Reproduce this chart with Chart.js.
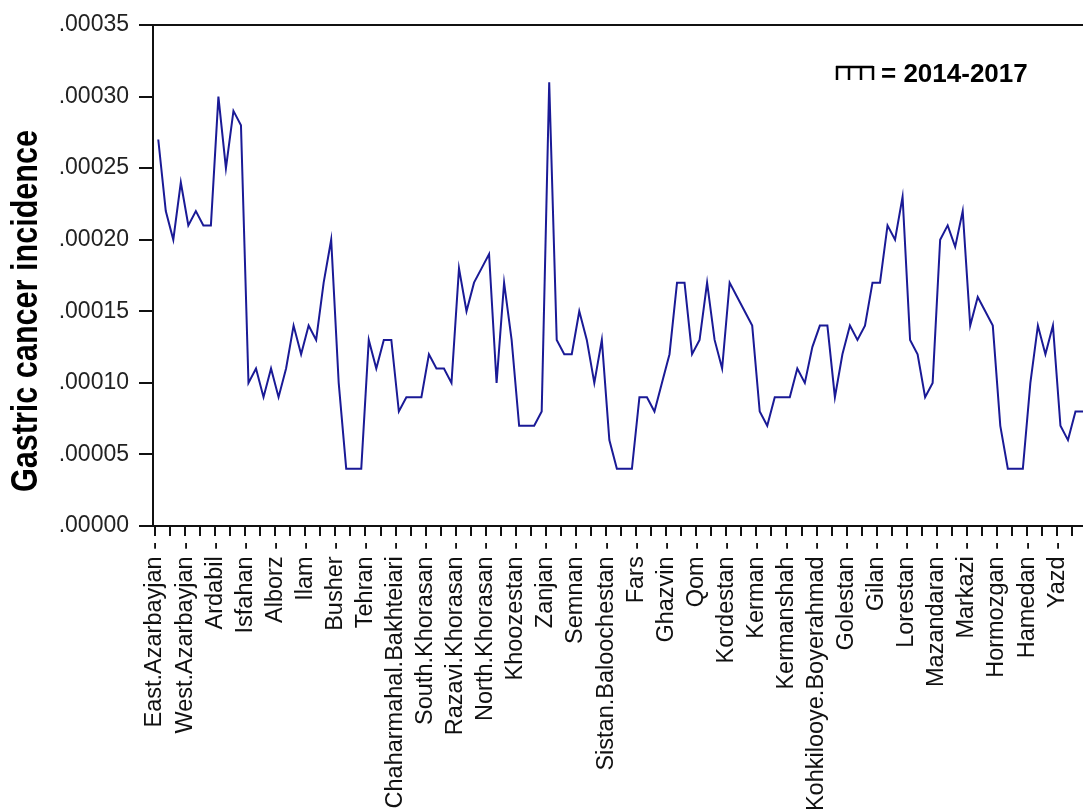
<!DOCTYPE html>
<html>
<head>
<meta charset="utf-8">
<script src="https://cdn.jsdelivr.net/npm/chart.js@4"></script>
<style>
html,body{margin:0;padding:0;background:#fff;overflow:hidden}
#wrap{width:1083px;height:812px;position:relative}
</style>
</head>
<body>
<div id="wrap"><canvas id="c" width="1083" height="812"></canvas></div>
<script>
// ---- data ----
const provinces = ['East.Azarbayjan','West.Azarbayjan','Ardabil','Isfahan','Alborz','Ilam','Busher','Tehran',
  'Chaharmahal.Bakhteiari','South.Khorasan','Razavi.Khorasan','North.Khorasan','Khoozestan','Zanjan','Semnan',
  'Sistan.Baloochestan','Fars','Ghazvin','Qom','Kordestan','Kerman','Kermanshah','Kohkilooye.Boyerahmad',
  'Golestan','Gilan','Lorestan','Mazandaran','Markazi','Hormozgan','Hamedan','Yazd'];
const years = ['2014','2015','2016','2017'];
// incidence, 4 observations per province (2014-2017), consecutive
const incidence = [
  0.00027,0.00022,0.00020,0.00024, 0.00021,0.00022,0.00021,0.00021,
  0.00030,0.00025,0.00029,0.00028, 0.00010,0.00011,0.00009,0.00011,
  0.00009,0.00011,0.00014,0.00012, 0.00014,0.00013,0.00017,0.00020,
  0.00010,0.00004,0.00004,0.00004, 0.00013,0.00011,0.00013,0.00013,
  0.00008,0.00009,0.00009,0.00009, 0.00012,0.00011,0.00011,0.00010,
  0.00018,0.00015,0.00017,0.00018, 0.00019,0.00010,0.00017,0.00013,
  0.00007,0.00007,0.00007,0.00008, 0.00031,0.00013,0.00012,0.00012,
  0.00015,0.00013,0.00010,0.00013, 0.00006,0.00004,0.00004,0.00004,
  0.00009,0.00009,0.00008,0.00010, 0.00012,0.00017,0.00017,0.00012,
  0.00013,0.00017,0.00013,0.00011, 0.00017,0.00016,0.00015,0.00014,
  0.00008,0.00007,0.00009,0.00009, 0.00009,0.00011,0.00010,0.000125,
  0.00014,0.00014,0.00009,0.00012, 0.00014,0.00013,0.00014,0.00017,
  0.00017,0.00021,0.00020,0.00023, 0.00013,0.00012,0.00009,0.00010,
  0.00020,0.00021,0.000195,0.00022, 0.00014,0.00016,0.00015,0.00014,
  0.00007,0.00004,0.00004,0.00004, 0.00010,0.00014,0.00012,0.00014,
  0.00007,0.00006,0.00008,0.00008
];
const yTickValues = [0,0.00005,0.00010,0.00015,0.00020,0.00025,0.00030,0.00035];
const yTitle = 'Gastric cancer incidence';
const legendText = '= 2014-2017';

// ---- chart ----
const perProvince = years.length;
const xTickValues = [];
for (let k = 0; k < 62; k++) xTickValues.push(-0.44 + 2 * k);

const decor = {
  id: 'decor',
  afterDraw(chart) {
    const ctx = chart.ctx, a = chart.chartArea;
    ctx.save();
    // top frame line
    ctx.strokeStyle = '#111';
    ctx.lineWidth = 2;
    ctx.beginPath();
    ctx.moveTo(a.left - 1, a.top);
    ctx.lineTo(a.right, a.top);
    ctx.stroke();
    // y title (condensed along its length)
    ctx.fillStyle = '#000';
    ctx.font = "bold 37px 'Liberation Sans', Arial, sans-serif";
    ctx.textAlign = 'center';
    ctx.textBaseline = 'alphabetic';
    const w = ctx.measureText(yTitle).width;
    ctx.translate(37, 311);
    ctx.rotate(-Math.PI / 2);
    ctx.scale(362 / w, 1);
    ctx.fillText(yTitle, 0, 0);
    ctx.restore();
    // legend symbol + text
    ctx.save();
    ctx.strokeStyle = '#000';
    ctx.lineWidth = 2.5;
    ctx.beginPath();
    ctx.moveTo(836, 67); ctx.lineTo(873, 67);
    for (let j = 0; j < perProvince; j++) {
      const x = 837 + j * 12;
      ctx.moveTo(x, 66); ctx.lineTo(x, 80);
    }
    ctx.stroke();
    ctx.fillStyle = '#000';
    ctx.font = "bold 26px 'Liberation Sans', Arial, sans-serif";
    ctx.textAlign = 'left';
    ctx.textBaseline = 'alphabetic';
    ctx.fillText(legendText, 881, 82);
    ctx.restore();
  }
};

new Chart(document.getElementById('c'), {
  type: 'line',
  data: {
    datasets: [{
      data: incidence.map((v, i) => ({x: i, y: v})),
      borderColor: '#1a1a96',
      borderWidth: 2,
      pointRadius: 0,
      tension: 0,
      fill: false
    }]
  },
  options: {
    responsive: false,
    animation: false,
    devicePixelRatio: 1,
    layout: {padding: {top: 25, right: 0, left: 0, bottom: 0}},
    plugins: {legend: {display: false}, tooltip: {enabled: false}},
    scales: {
      x: {
        type: 'linear',
        min: -0.7,
        max: 123,
        afterBuildTicks(scale) { scale.ticks = xTickValues.map(v => ({value: v})); },
        afterFit(scale) { scale.height = 812 - 526; scale.paddingLeft = 0; scale.paddingRight = 0; },
        ticks: {
          autoSkip: false,
          minRotation: 90,
          maxRotation: 90,
          padding: 6,
          color: '#111',
          font: {family: "'Liberation Sans', Arial, sans-serif", size: 23.5},
          callback(v, idx) { return idx % 2 === 0 ? provinces[idx / 2] + ' -' : ''; }
        },
        grid: {drawOnChartArea: false, drawTicks: true, tickLength: 10, color: '#111', lineWidth: 2},
        border: {display: true, color: '#111', width: 2}
      },
      y: {
        min: 0,
        max: 0.00035,
        afterBuildTicks(scale) { scale.ticks = yTickValues.map(v => ({value: v})); },
        afterFit(scale) { scale.width = 153; scale.paddingTop = 0; scale.paddingBottom = 0; },
        ticks: {
          padding: 10,
          color: '#222',
          font: {family: "'Liberation Sans', Arial, sans-serif", size: 23},
          callback(v) { return v.toFixed(5).replace(/^0/, ''); }
        },
        grid: {drawOnChartArea: false, drawTicks: true, tickLength: 14, color: '#111', lineWidth: 2},
        border: {display: true, color: '#111', width: 2}
      }
    }
  },
  plugins: [decor]
});
</script>
</body>
</html>
